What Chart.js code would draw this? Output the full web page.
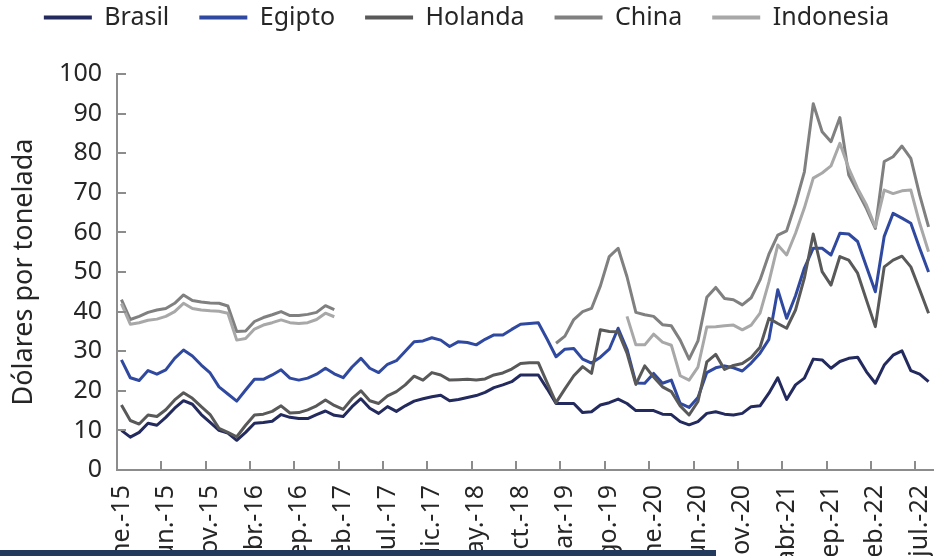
<!DOCTYPE html>
<html>
<head>
<meta charset="utf-8">
<script src="https://cdn.jsdelivr.net/npm/chart.js@4.4.1/dist/chart.umd.min.js"></script>
<style>
  html, body { margin: 0; padding: 0; background: #fff; }
  #wrap { position: relative; width: 937px; height: 556px; overflow: hidden; }
  #bar { position: absolute; left: 0; top: 550px; width: 716px; height: 6px; background: #243a5c; }
</style>
</head>
<body>
<div id="wrap">
  <canvas id="chart" width="937" height="556"></canvas>
  <div id="bar"></div>
</div>
<script>
// months ene.-15 ... ago.-22
const monthNames = ['ene.', 'feb.', 'mar.', 'abr.', 'may.', 'jun.', 'jul.', 'ago.', 'sep.', 'oct.', 'nov.', 'dic.'];
const years = ['15', '16', '17', '18', '19', '20', '21', '22'];
const labels = [];
years.forEach(yy => monthNames.forEach(m => labels.push(m + '-' + yy)));
labels.length = 92;

const brasil = [10, 8.3, 9.5, 11.8, 11.3, 13.3, 15.6, 17.5, 16.6, 14, 12, 10, 9.3, 7.5, 9.5, 11.8, 12, 12.3, 14, 13.3,
  13, 13, 14, 14.9, 13.8, 13.5, 16, 18, 15.6, 14.3, 16, 14.8, 16.2, 17.4, 18, 18.5, 18.9, 17.5, 17.8, 18.3,
  18.8, 19.6, 20.8, 21.5, 22.3, 24, 24, 24, 20.5, 16.8, 16.8, 16.8, 14.5, 14.7, 16.4, 17, 17.9, 16.8, 15, 15,
  15, 14.1, 14, 12.2, 11.4, 12.2, 14.3, 14.7, 14.1, 13.9, 14.3, 16, 16.2, 19.4, 23.3, 17.8, 21.5, 23.2, 28, 27.8,
  25.7, 27.4, 28.2, 28.5, 24.8, 21.9, 26.5, 29, 30.1, 25.1, 24.2, 22.3];

const egipto = [27.8, 23.3, 22.6, 25.1, 24.2, 25.3, 28.2, 30.3, 28.8, 26.5, 24.5, 21, 19.2, 17.4, 20.2, 22.9, 22.9, 24, 25.3, 23.2,
  22.7, 23.2, 24.2, 25.7, 24.3, 23.3, 26, 28.2, 25.7, 24.6, 26.7, 27.6, 30, 32.4, 32.6, 33.4, 32.8, 31.2, 32.4, 32.2,
  31.6, 33, 34.1, 34.1, 35.5, 36.8, 37, 37.2, 33, 28.6, 30.5, 30.7, 28, 27, 28.5, 30.5, 35.8, 30.5, 22, 21.9,
  24.4, 21.9, 22.7, 16.8, 15.8, 18.3, 24.6, 25.8, 26.3, 25.8, 25, 27, 29.5, 33, 45.5, 38.3, 44, 51, 56, 56,
  54.3, 59.8, 59.6, 57.7, 51.3, 45, 59, 64.8, 63.6, 62.3, 56, 50];

const holanda = [16.4, 12.5, 11.6, 13.9, 13.5, 15.2, 17.7, 19.5, 18.1, 16, 14, 10.5, 9.5, 8.4, 11.3, 13.9, 14.1, 14.8, 16.2, 14.4,
  14.5, 15.2, 16.2, 17.7, 16.3, 15.3, 18, 20, 17.5, 16.8, 18.7, 19.8, 21.5, 23.7, 22.7, 24.6, 24, 22.7, 22.8, 22.9,
  22.7, 23, 24, 24.5, 25.5, 26.9, 27.1, 27.1, 22, 17, 20.5, 23.8, 26.1, 24.4, 35.4, 35, 34.9, 29.5, 21.6, 26.3,
  23.5, 21, 19.8, 16.2, 13.9, 17.3, 27.3, 29.2, 25.4, 26.4, 26.9, 28.4, 31, 38.3, 37, 35.8, 40.4, 48.5, 59.6, 50.1,
  46.7, 53.9, 53, 49.7, 42.9, 36.2, 51.3, 53, 54, 51.3, 45.5, 39.6];

const china = [43, 38, 38.8, 39.8, 40.4, 40.8, 42.1, 44.2, 42.8, 42.4, 42.2, 42.1, 41.4, 35, 35.1, 37.5, 38.5, 39.2, 40, 39,
  39, 39.3, 39.8, 41.5, 40.5, null, null, null, null, null, null, null, null, null, null, null, null, null, null, null,
  null, null, null, null, null, null, null, null, null, 32, 33.8, 38, 40, 40.8, 46.5, 53.9, 56, 48.8, 39.8, 39.2,
  38.8, 36.7, 36.4, 32.8, 28, 32.6, 43.6, 46.1, 43.3, 43, 41.7, 43.5, 48, 54.5, 59.3, 60.4, 67.3, 75.3, 92.5, 85.4,
  82.9, 89, 74.5, 70.3, 66, 61, 77.9, 79.1, 81.8, 78.7, 69.4, 61.4];

const indonesia = [42, 36.8, 37.2, 37.8, 38.1, 38.8, 40, 42.1, 40.8, 40.4, 40.2, 40.1, 39.6, 32.8, 33.2, 35.6, 36.6, 37.2, 37.9, 37.2,
  37, 37.2, 38, 39.6, 38.7, null, null, null, null, null, null, null, null, null, null, null, null, null, null, null,
  null, null, null, null, null, null, null, null, null, null, null, null, null, null, null, null, null, 38.8, 31.6, 31.6,
  34.3, 32.3, 31.5, 23.8, 22.7, 26, 36.1, 36.2, 36.4, 36.6, 35.4, 36.6, 39.6, 47.5, 56.8, 54.3, 59.8, 66.2, 73.7, 75,
  76.8, 82.5, 76.2, 71.1, 66.9, 61.4, 70.7, 69.8, 70.5, 70.7, 62.3, 55.1];

const axisColor = '#8c8c8c';
const textColor = '#262626';

Chart.defaults.font.family = "'Noto Sans', sans-serif";
Chart.defaults.color = textColor;

// small tick marks pointing into the plot, as in the original
const innerTicks = {
  id: 'innerTicks',
  afterDraw(chart) {
    const {ctx, scales: {x, y}} = chart;
    ctx.save();
    ctx.strokeStyle = axisColor;
    ctx.lineWidth = 2;
    ctx.beginPath();
    for (let i = 5; i < labels.length; i += 5) {
      const px = Math.round((x.getPixelForValue(i - 1) + x.getPixelForValue(i)) / 2);
      ctx.moveTo(px, y.bottom);
      ctx.lineTo(px, y.bottom - 9);
    }
    y.ticks.forEach(t => {
      const py = Math.round(y.getPixelForValue(t.value));
      ctx.moveTo(x.left, py);
      ctx.lineTo(x.left + 9, py);
    });
    ctx.stroke();
    ctx.restore();
  }
};

// fixed legend height so the plot starts where it does in the original
const legendHeight = {
  id: 'legendHeight',
  beforeInit(chart) {
    if (!chart.legend) return;
    const fit = chart.legend.fit;
    chart.legend.fit = function () {
      fit.call(this);
      this.height = 99;
    };
  }
};

function line(label, data, color, order) {
  return {
    label: label,
    data: data,
    borderColor: color,
    backgroundColor: color,
    borderWidth: 3,
    pointRadius: 0,
    tension: 0,
    spanGaps: false,
    borderJoinStyle: 'round',
    order: order
  };
}

new Chart(document.getElementById('chart'), {
  type: 'line',
  data: {
    labels: labels,
    datasets: [
      line('Brasil', brasil, '#232a5e', 5),
      line('Egipto', egipto, '#3049a0', 4),
      line('Holanda', holanda, '#595959', 3),
      line('China', china, '#808080', 2),
      line('Indonesia', indonesia, '#a8a8a8', 1)
    ]
  },
  options: {
    responsive: false,
    animation: false,
    layout: { padding: { top: -25, right: 4, left: 0, bottom: 0 } },
    plugins: {
      tooltip: { enabled: false },
      legend: {
        position: 'top',
        labels: {
          font: { size: 25 },
          color: textColor,
          boxWidth: 48,
          boxHeight: 4,
          padding: 30,
          sort: (a, b) => a.datasetIndex - b.datasetIndex,
          generateLabels(chart) {
            const items = Chart.defaults.plugins.legend.labels.generateLabels(chart);
            items.forEach(it => { it.lineWidth = 0; it.fillStyle = it.strokeStyle; });
            return items;
          }
        }
      }
    },
    scales: {
      x: {
        offset: true,
        grid: { display: false, drawTicks: false, offset: true },
        border: { display: true, color: axisColor, width: 2 },
        ticks: {
          autoSkip: false,
          minRotation: 90,
          maxRotation: 90,
          padding: 15,
          font: { size: 25 },
          color: textColor,
          callback(value, index) {
            return index % 5 === 0 ? this.getLabelForValue(value) : '';
          }
        },
        afterFit(scale) {
          scale.height = 86;
          scale.paddingLeft = 0;
          scale.paddingRight = 0;
        }
      },
      y: {
        min: 0,
        max: 100,
        grid: { display: false, drawTicks: false },
        border: { display: true, color: axisColor, width: 2 },
        ticks: { stepSize: 10, padding: 15, font: { size: 25 }, color: textColor },
        title: {
          display: true,
          text: 'Dólares por tonelada',
          font: { size: 27 },
          color: textColor,
          padding: { top: 8, bottom: 0 }
        },
        afterFit(scale) { scale.width = 117; }
      }
    }
  },
  plugins: [innerTicks, legendHeight]
});
</script>
</body>
</html>
